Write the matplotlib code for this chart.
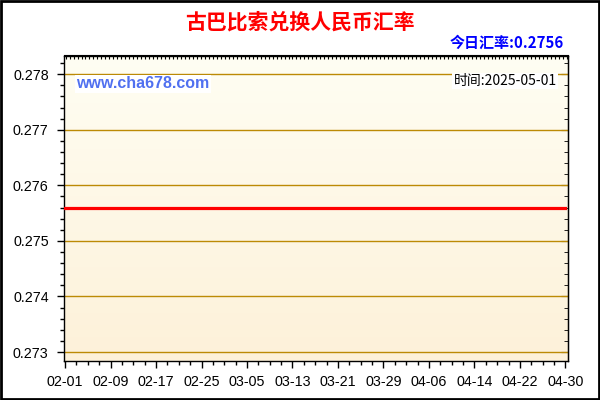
import numpy as np
import matplotlib
matplotlib.use("Agg")
import matplotlib.pyplot as plt
import matplotlib.dates as mdates
from matplotlib.ticker import MultipleLocator
from matplotlib.patches import Rectangle
from datetime import datetime, timedelta

# Daten (Kurs blieb im Zeitraum konstant)
dates = ["2025-02-01", "2025-04-30"]
rates = [0.2756, 0.2756]
tick_labels = ["02-01", "02-09", "02-17", "02-25", "03-05", "03-13",
               "03-21", "03-29", "04-06", "04-14", "04-22", "04-30"]
title = "古巴比索兑换人民币汇率"
today_rate = "今日汇率:0.2756"
time_text = "时间:2025-05-01"
site = "www.cha678.com"

cjk = ["Noto Sans CJK SC", "DejaVu Sans"]
plt.rcParams["font.family"] = ["Liberation Sans", "DejaVu Sans"]

x = [datetime.strptime(d, "%Y-%m-%d") for d in dates]
start = x[0]

fig = plt.figure(figsize=(6, 4), dpi=100)
ax = fig.add_axes([64 / 600, 1 - 361 / 400, 504 / 600, 305.5 / 400])

x0 = mdates.date2num(start - timedelta(days=0.18))
x1 = mdates.date2num(start + timedelta(days=88.45))
y0, y1 = 0.272838, 0.278338

# Hintergrund mit Farbverlauf
grad = np.linspace(0, 1, 256).reshape(-1, 1)
top_c = np.array([255, 254, 243]) / 255
bot_c = np.array([253, 241, 217]) / 255
img = top_c * (1 - grad[..., None]) + bot_c * grad[..., None]
ax.imshow(img, extent=[x0, x1, y0, y1], aspect="auto", origin="upper", zorder=0)

for v in [0.273, 0.274, 0.275, 0.276, 0.277, 0.278]:
    ax.axhline(v, color="#BC8A05", lw=1, zorder=1)

ax.plot(x, rates, color="#FF0000", lw=2.3, zorder=3)

ax.set_xlim(x0, x1)
ax.set_ylim(y0, y1)

ticks = [start + timedelta(days=8 * i) for i in range(len(tick_labels))]
ax.set_xticks(ticks)
ax.set_xticklabels(tick_labels)
ax.xaxis.set_minor_locator(mdates.DayLocator(interval=2))
ax.set_yticks([0.273, 0.274, 0.275, 0.276, 0.277, 0.278])
ax.set_yticklabels(["0.273", "0.274", "0.275", "0.276", "0.277", "0.278"])
ax.yaxis.set_minor_locator(MultipleLocator(0.0002))

ax.tick_params(axis="both", which="major", labelsize=10.3, color="black",
               length=5, width=1)
ax.tick_params(axis="both", which="minor", length=3, width=1)
ax.tick_params(axis="x", which="major", pad=5)
ax.tick_params(axis="y", which="major", pad=6)
ax.tick_params(axis="y", which="both", right=False)

for s in ax.spines.values():
    s.set_linewidth(1)
    s.set_color("black")

# rechte Achse: Ticks nach innen
ax_r = ax.secondary_yaxis("right")
ax_r.set_yticks([0.273, 0.274, 0.275, 0.276, 0.277, 0.278])
ax_r.yaxis.set_minor_locator(MultipleLocator(0.0002))
ax_r.tick_params(which="both", direction="in", labelright=False)
ax_r.tick_params(which="major", length=5)
ax_r.tick_params(which="minor", length=3)

# obere Achse: kurze Ticks nach innen
ax_t = ax.secondary_xaxis("top")
ax_t.xaxis.set_major_locator(MultipleLocator(0.7))
ax_t.tick_params(direction="in", length=3, labeltop=False)

fig.text(0.5, 1 - 22 / 400, title, ha="center", va="center", color="#FF0000",
         fontsize=15, fontweight="bold", family=cjk)
fig.text(564 / 600, 1 - 43 / 400, today_rate, ha="right", va="center",
         color="#0000FF", fontsize=10.8, fontweight="bold", family=cjk)
fig.text(76 / 600, 1 - 84 / 400, site, ha="left", va="center", color="#5070F0",
         fontsize=11.5, fontweight="bold",
         bbox=dict(facecolor="white", edgecolor="none", pad=1))
fig.text(557 / 600, 1 - 81 / 400, time_text, ha="right", va="center",
         color="black", fontsize=10, family=cjk,
         bbox=dict(facecolor="white", edgecolor="none", pad=1))

# Rahmen um das ganze Bild
fig.patches.append(Rectangle((0.001, 0.002), 0.997, 0.996, transform=fig.transFigure,
                             fill=False, edgecolor="black", lw=2))

fig.savefig("out.png", dpi=100)
